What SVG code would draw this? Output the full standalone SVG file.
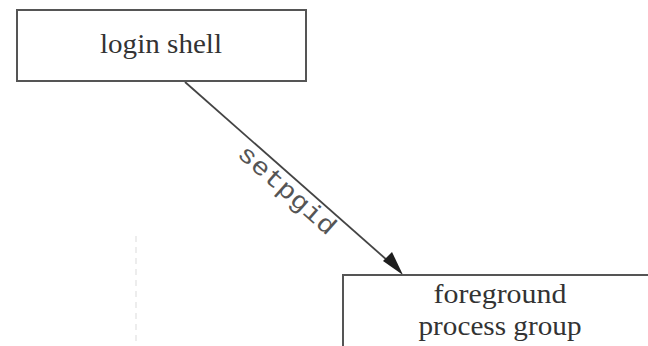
<svg xmlns="http://www.w3.org/2000/svg" width="648" height="346" viewBox="0 0 648 346">
  <style>
    .box { fill: #ffffff; stroke: #555555; stroke-width: 2; }
    .label { font-family: "Liberation Serif", "DejaVu Serif", serif; font-size: 27px; fill: #333333; text-anchor: middle; }
    .edge { stroke: #444444; stroke-width: 1.8; fill: none; }
    .code { font-family: "Liberation Mono", "DejaVu Sans Mono", monospace; font-size: 25px; fill: #555555; text-anchor: middle; }
  </style>
  <rect width="648" height="346" fill="#ffffff"/>

  <!-- faint guide line -->
  <line x1="136" y1="236" x2="136" y2="346" stroke="#e2e2e2" stroke-width="1.2" stroke-dasharray="6 5"/>

  <g id="connectors">
    <line class="edge" x1="185" y1="82" x2="396" y2="268"/>
    <path d="M383,261 L403,275 L392,252 z" fill="#1e1e1e"/>
    <text class="code" transform="translate(282,196) rotate(41.5)" textLength="122" lengthAdjust="spacingAndGlyphs">setpgid</text>
  </g>

  <g id="login-shell">
    <rect class="box" x="17" y="10" width="289" height="71"/>
    <text class="label" x="161" y="53" textLength="122" lengthAdjust="spacingAndGlyphs">login shell</text>
  </g>

  <g id="foreground-process-group">
    <rect class="box" x="343" y="275" width="310" height="80"/>
    <text class="label" x="500" y="303" textLength="133" lengthAdjust="spacingAndGlyphs">foreground</text>
    <text class="label" x="500" y="335" textLength="163" lengthAdjust="spacingAndGlyphs">process group</text>
  </g>
</svg>
